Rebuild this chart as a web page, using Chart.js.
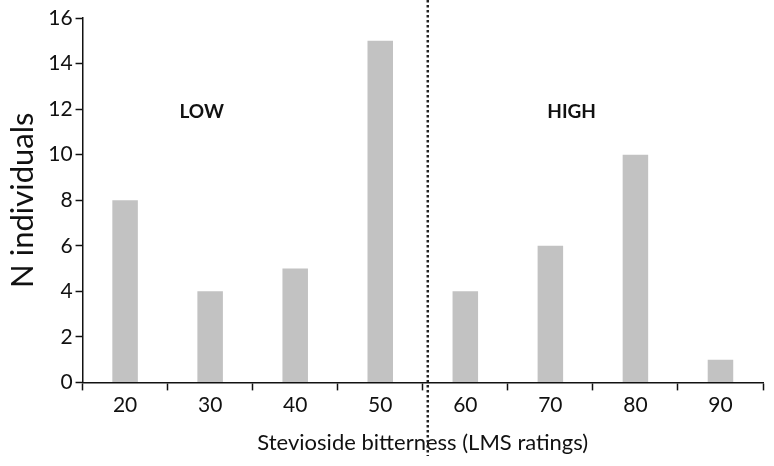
<!DOCTYPE html>
<html>
<head>
<meta charset="utf-8">
<script src="https://cdn.jsdelivr.net/npm/chart.js@4"></script>
<style>
  html, body { margin: 0; padding: 0; background: #fff; }
  #wrap { width: 774px; height: 466px; }
</style>
</head>
<body>
<div id="wrap"><canvas id="bitterChart" width="774" height="466"></canvas></div>
<script>
const ratings = ['20', '30', '40', '50', '60', '70', '80', '90'];
const individuals = [8, 4, 5, 15, 4, 6, 10, 1];
const yTicks = [0, 2, 4, 6, 8, 10, 12, 14, 16];
const groupLabels = ['LOW', 'HIGH'];

const FONT = 'Lato, "Open Sans", sans-serif';

// dotted divider between 50 and 60, plus LOW / HIGH labels
const dividerPlugin = {
    id: 'divider',
    afterDatasetsDraw(chart) {
        const { ctx, scales: { x, y } } = chart;
        const xPos = (x.getPixelForValue(3) + x.getPixelForValue(4)) / 2 + 5;
        ctx.save();
        ctx.strokeStyle = '#222';
        ctx.lineWidth = 2.5;
        ctx.setLineDash([2.5, 2.5]);
        ctx.beginPath();
        ctx.moveTo(xPos, 0);
        ctx.lineTo(xPos, 456);
        ctx.stroke();
        ctx.setLineDash([]);
        ctx.fillStyle = '#111';
        ctx.font = 'bold 19px ' + FONT;
        ctx.textAlign = 'center';
        ctx.textBaseline = 'middle';
        ctx.fillText(groupLabels[0], x.getPixelForValue(0.9), y.getPixelForValue(11.9));
        ctx.fillText(groupLabels[1], x.getPixelForValue(5.25), y.getPixelForValue(11.9));
        ctx.restore();
    }
};

const ctx = document.getElementById('bitterChart').getContext('2d');

new Chart(ctx, {
    type: 'bar',
    data: {
        labels: ratings,
        datasets: [{
            label: 'N individuals',
            data: individuals,
            backgroundColor: '#c2c2c2',
            borderWidth: 0,
            categoryPercentage: 1,
            barPercentage: 0.3
        }]
    },
    options: {
        responsive: false,
        animation: false,
        layout: { padding: { top: 18, right: 11, left: 4, bottom: 10 } },
        plugins: {
            legend: { display: false },
            tooltip: { enabled: false }
        },
        scales: {
            x: {
                grid: { display: true, drawOnChartArea: false, color: '#111', tickLength: 8, tickWidth: 1.5 },
                border: { color: '#111', width: 1.5 },
                ticks: { color: '#111', font: { family: FONT, size: 21 }, padding: 2 },
                title: {
                    display: true,
                    text: 'Stevioside bitterness (LMS ratings)',
                    color: '#111',
                    font: { family: FONT, size: 22 },
                    padding: { top: 10, bottom: 0 }
                }
            },
            y: {
                min: 0,
                max: 16,
                afterBuildTicks: axis => { axis.ticks = yTicks.map(v => ({ value: v })); },
                grid: { display: true, drawOnChartArea: false, color: '#111', tickLength: 7, tickWidth: 1.5 },
                border: { color: '#111', width: 1.5 },
                ticks: { color: '#111', font: { family: FONT, size: 21 }, padding: 3 },
                title: {
                    display: true,
                    text: 'N individuals',
                    color: '#111',
                    font: { family: FONT, size: 31 },
                    padding: { top: 0, bottom: 4 }
                }
            }
        }
    },
    plugins: [dividerPlugin]
});
</script>
</body>
</html>
